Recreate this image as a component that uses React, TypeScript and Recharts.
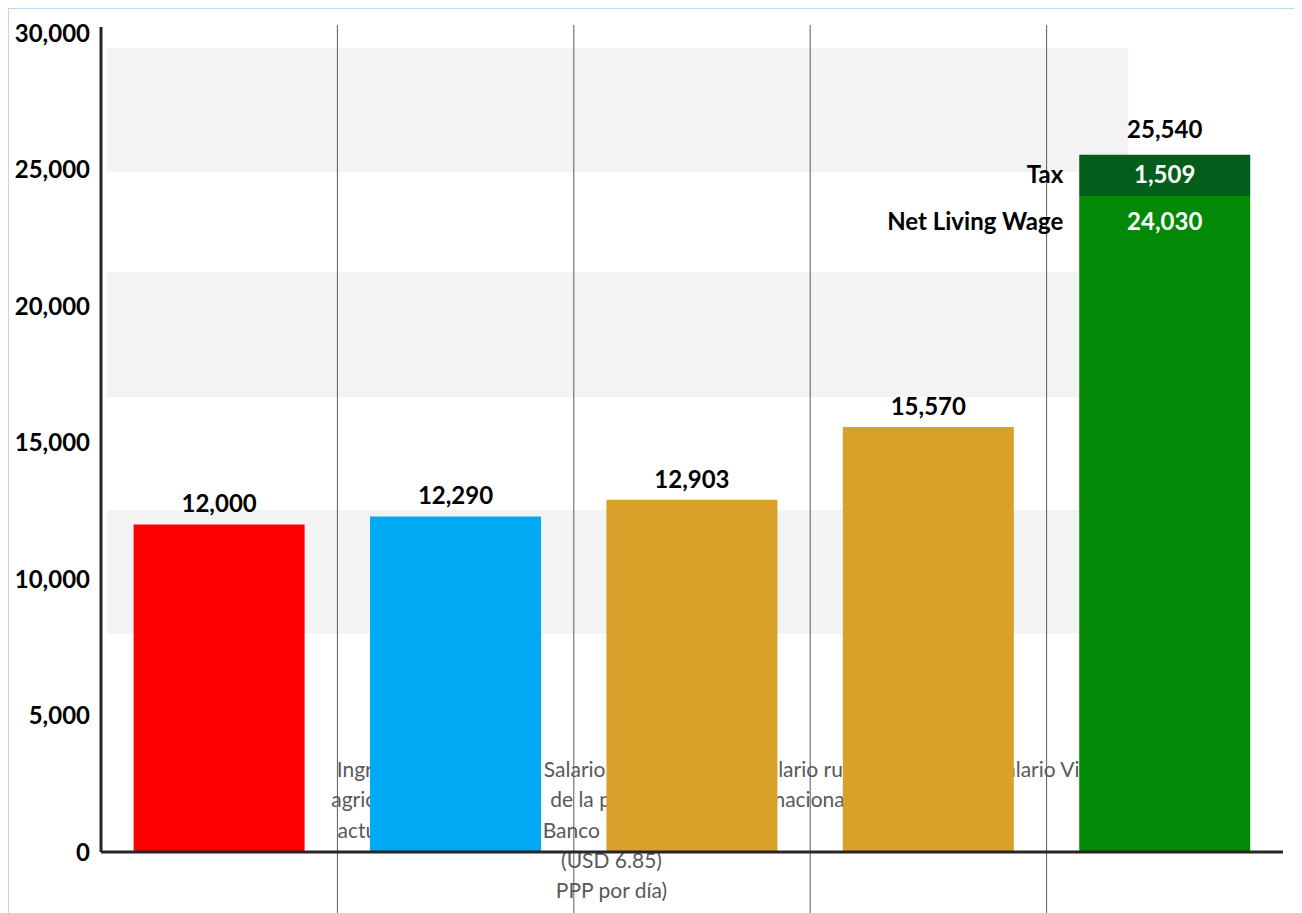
import React from 'react';
import { BarChart, Bar, XAxis, YAxis, Cell, LabelList, ReferenceArea, ReferenceLine } from 'recharts';

const categories = [
  'Ingresos agricultor actuales',
  'Salario mínimo de la pobreza Banco Mundial',
  'Salario rural mínimo nacional',
  'Salario Vital y Móvil',
  'Net Living Wage',
];
const categoryLines = [
  ['Ingresos', 'agricultor', 'actuales'],
  ['Salario mínimo', 'de la pobreza', 'Banco Mundial', '(USD 6.85)', 'PPP por día)'],
  ['Salario rural mínimo', 'nacional vigente'],
  ['Salario Vital y Móvil'],
  [],
];
const benchmarkValues = [12000, 12290, 12903, 15570, null];
const netWageValues = [null, null, null, null, 24030];
const taxValues = [null, null, null, null, 1509];
const totalValues = [null, null, null, null, 25540];
const yTicks = [0, 5000, 10000, 15000, 20000, 25000, 30000];
const bandRanges = [
  [7990, 12530],
  [16670, 21250],
  [24900, 29450],
];

const benchmarkColors = ['#ff0000', '#00a9f4', '#d9a12a', '#d9a12a', '#d9a12a'];
const NET_COLOR = '#028a06';
const TAX_COLOR = '#045e1b';
const FONT = 'Lato, "Open Sans", sans-serif';
const LABEL_SHIFT = 156;

const data = categories.map((name, i) => ({
  name,
  benchmark: benchmarkValues[i],
  net: netWageValues[i],
  tax: taxValues[i],
  total: totalValues[i],
}));

const fmt = (v: number) => v.toLocaleString('en-US');

function box(props: any) {
  const vb = props.viewBox ?? props;
  return { x: Number(vb.x), y: Number(vb.y), width: Number(vb.width), height: Number(vb.height) };
}

// category names are drawn as the bar background so the bars cover them, like in the original
function CategoryText(props: any) {
  const idx = props.payload ? categories.indexOf(props.payload.name) : props.index;
  const lines = categoryLines[idx] || [];
  const cx = props.x + props.width / 2 + LABEL_SHIFT;
  const bottom = props.y + props.height;
  return (
    <g>
      {lines.map((line, i) => (
        <text
          key={i}
          x={cx}
          y={bottom - 75 + i * 30.3}
          textAnchor="middle"
          fill="#595959"
          fontSize={21}
          fontFamily={FONT}
        >
          {line}
        </text>
      ))}
    </g>
  );
}

function BenchmarkLabel(props: any) {
  if (props.value == null) return null;
  const { x, y, width } = box(props);
  return (
    <text x={x + width / 2} y={y - 12} textAnchor="middle" fontSize={24} fontWeight={700} fontFamily={FONT} fill="#000">
      {fmt(props.value)}
    </text>
  );
}

function NetLabel(props: any) {
  if (props.value == null) return null;
  const { x, y, width } = box(props);
  return (
    <g fontFamily={FONT} fontSize={24} fontWeight={700}>
      <text x={x - 16} y={y + 34} textAnchor="end" fill="#000">Net Living Wage</text>
      <text x={x + width / 2} y={y + 34} textAnchor="middle" fill="#fff">{fmt(props.value)}</text>
    </g>
  );
}

function TaxLabel(props: any) {
  if (props.value == null) return null;
  const { x, y, width, height } = box(props);
  return (
    <g fontFamily={FONT} fontSize={24} fontWeight={700}>
      <text x={x - 16} y={y + height / 2 + 8} textAnchor="end" fill="#000">Tax</text>
      <text x={x + width / 2} y={y + height / 2 + 8} textAnchor="middle" fill="#fff">{fmt(props.value)}</text>
    </g>
  );
}

function TotalLabel(props: any) {
  if (props.value == null) return null;
  const { x, y, width } = box(props);
  return (
    <text x={x + width / 2} y={y - 17} textAnchor="middle" fontSize={24} fontWeight={700} fontFamily={FONT} fill="#000">
      {fmt(props.value)}
    </text>
  );
}

function BoundaryLine(props: any) {
  const top = Math.min(props.y1, props.y2);
  const bottom = Math.max(props.y1, props.y2);
  return <line x1={props.x1} x2={props.x2} y1={top - 2} y2={bottom + 61} stroke="#5c5c5c" strokeWidth={1} />;
}

export default function App() {
  return (
    <div
      style={{
        width: 1293,
        height: 904,
        borderTop: '1px solid #b7dbe8',
        borderLeft: '1px solid #b7dbe8',
        fontFamily: FONT,
      }}
    >
      <BarChart
        width={1293}
        height={904}
        data={data}
        margin={{ top: 18, right: 19, left: 0, bottom: 0 }}
        barCategoryGap="13.8%"
      >
        <XAxis xAxisId="band" type="number" domain={[0, 4]} allowDataOverflow hide />
        {bandRanges.map(([lo, hi], i) => (
          <ReferenceArea
            key={i}
            xAxisId="band"
            x1={0.02}
            x2={3.476}
            y1={lo}
            y2={hi}
            fill="#f3f3f3"
            fillOpacity={1}
            stroke="none"
            ifOverflow="visible"
          />
        ))}
        <XAxis dataKey="name" axisLine={false} tickLine={false} tick={false} height={61} />
        {categories.slice(1).map((c) => (
          <ReferenceLine key={c} x={c} position="start" shape={BoundaryLine} />
        ))}
        <YAxis
          domain={[0, 30220]}
          ticks={yTicks}
          width={92}
          tickLine={false}
          tickSize={0}
          tickMargin={11}
          axisLine={{ stroke: '#262626', strokeWidth: 3 }}
          tickFormatter={fmt}
          tick={{ fill: '#000', fontSize: 24, fontWeight: 700, fontFamily: FONT }}
        />
        <Bar dataKey="benchmark" stackId="s" isAnimationActive={false} background={CategoryText}>
          {data.map((_, i) => (
            <Cell key={i} fill={benchmarkColors[i]} />
          ))}
          <LabelList dataKey="benchmark" content={BenchmarkLabel} />
        </Bar>
        <Bar dataKey="net" stackId="s" fill={NET_COLOR} isAnimationActive={false}>
          <LabelList dataKey="net" content={NetLabel} />
        </Bar>
        <Bar dataKey="tax" stackId="s" fill={TAX_COLOR} isAnimationActive={false}>
          <LabelList dataKey="tax" content={TaxLabel} />
          <LabelList dataKey="total" content={TotalLabel} />
        </Bar>
        <ReferenceLine y={0} stroke="#262626" strokeWidth={3} />
      </BarChart>
    </div>
  );
}
